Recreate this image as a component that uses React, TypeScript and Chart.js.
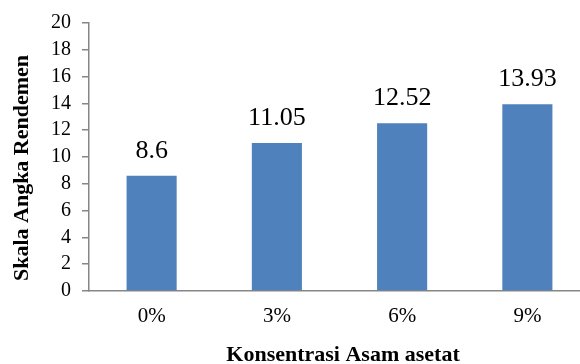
import React, { useEffect, useRef } from "react";
import { Chart, registerables } from "chart.js";

Chart.register(...registerables);

const categories = ["0%", "3%", "6%", "9%"];
const rendemen = [8.6, 11.05, 12.52, 13.93];
const yTitle = "Skala Angka Rendemen";
const xTitle = "Konsentrasi Asam asetat";

const SERIF = "'Liberation Serif', 'Times New Roman', serif";

const labelPlugin = {
  id: "valueLabels",
  afterDatasetsDraw(chart: any) {
    const ctx = chart.ctx;
    const meta = chart.getDatasetMeta(0);
    ctx.save();
    ctx.font = `26px ${SERIF}`;
    ctx.fillStyle = "#000";
    ctx.textAlign = "center";
    ctx.textBaseline = "alphabetic";
    meta.data.forEach((bar: any, i: number) => {
      ctx.fillText(String(rendemen[i]), bar.x, bar.y - 18);
    });
    ctx.restore();
  },
};

const titlePlugin = {
  id: "axisTitles",
  afterDraw(chart: any) {
    const ctx = chart.ctx;
    ctx.save();
    ctx.fillStyle = "#000";
    ctx.font = `bold 22px ${SERIF}`;
    ctx.textAlign = "center";
    ctx.textBaseline = "alphabetic";
    ctx.fillText(xTitle, 343, 361);
    ctx.translate(22, 168);
    ctx.rotate(-Math.PI / 2);
    ctx.textBaseline = "middle";
    ctx.fillText(yTitle, 0, 0);
    ctx.restore();
  },
};

export default function App() {
  const ref = useRef<HTMLCanvasElement | null>(null);
  useEffect(() => {
    document.body.style.margin = "0";
    const canvas = ref.current!;
    const chart = new Chart(canvas, {
      type: "bar",
      data: {
        labels: categories,
        datasets: [
          {
            data: rendemen,
            backgroundColor: "#4F81BD",
            borderWidth: 0,
            barPercentage: 0.4,
            categoryPercentage: 1,
          },
        ],
      },
      options: {
        responsive: false,
        animation: false,
        devicePixelRatio: 1,
        layout: { padding: { left: 0, right: 0, top: 20, bottom: 0 } },
        plugins: { legend: { display: false }, tooltip: { enabled: false } },
        scales: {
          x: {
            grid: { display: false },
            border: { display: true, color: "#868686", width: 1.5 },
            ticks: {
              color: "#000",
              font: { family: SERIF, size: 21 },
              padding: 5,
            },
            afterFit: (s: any) => {
              s.height = 73;
            },
          },
          y: {
            min: 0,
            max: 20,
            ticks: {
              stepSize: 2,
              autoSkip: false,
              color: "#000",
              font: { family: SERIF, size: 20 },
              padding: 11,
            },
            grid: {
              drawOnChartArea: false,
              drawTicks: true,
              tickLength: 7,
              color: "#868686",
              lineWidth: 1.5,
            },
            border: { display: true, color: "#868686", width: 1.5 },
            afterFit: (s: any) => {
              s.width = 89;
            },
          },
        },
      },
      plugins: [labelPlugin, titlePlugin],
    });
    return () => chart.destroy();
  }, []);
  return (
    <div style={{ width: 580, height: 364, overflow: "hidden" }}>
      <canvas ref={ref} width={590} height={364} style={{ display: "block" }} />
    </div>
  );
}
